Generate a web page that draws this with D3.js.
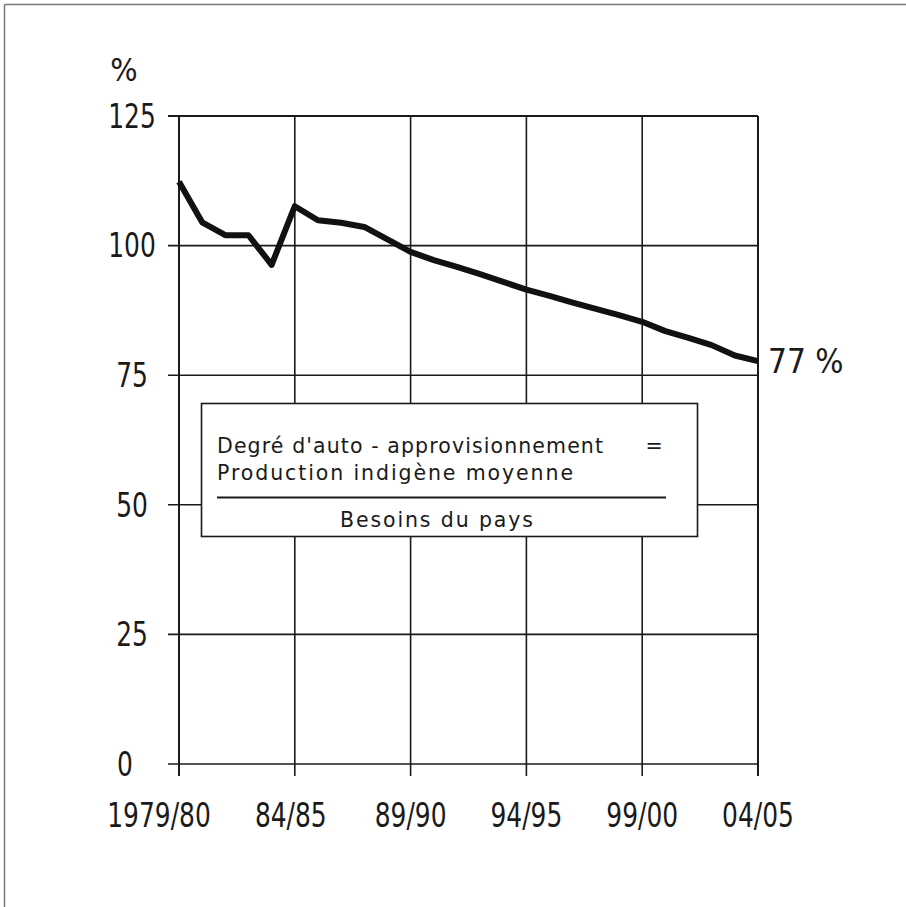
<!DOCTYPE html>
<html><head><meta charset="utf-8">
<script src="https://cdn.jsdelivr.net/npm/d3@7/dist/d3.min.js"></script>
<style>
html,body{margin:0;padding:0;background:#fff;}
svg{display:block;}
</style></head>
<body>
<script>
// ---- data ----
const periods = ["1979/80","80/81","81/82","82/83","83/84","84/85","85/86","86/87","87/88","88/89",
  "89/90","90/91","91/92","92/93","93/94","94/95","95/96","96/97","97/98","98/99",
  "99/00","00/01","01/02","02/03","03/04","04/05"];
const selfSufficiency = [112.3,104.5,102.0,102.0,96.3,107.6,104.9,104.4,103.6,101.2,
  98.8,97.2,95.9,94.5,93.0,91.5,90.3,89.0,87.8,86.6,
  85.3,83.5,82.2,80.8,78.8,77.7];
const xTickLabels = ["1979/80","84/85","89/90","94/95","99/00","04/05"];
const yTicks = [0,25,50,75,100,125];
const unitLabel = "%";
const endLabel = "77 %";
const legendLines = ["Degré d'auto - approvisionnement", "Production indigène moyenne", "Besoins du pays"];

// ---- layout ----
const W = 906, H = 907;
const svg = d3.select("body").append("svg").attr("width", W).attr("height", H);
svg.append("rect").attr("width", W).attr("height", H).attr("fill", "#fff");

// outer frame (top & left only, as cropped)
svg.append("line").attr("x1",4.5).attr("y1",4.5).attr("x2",W).attr("y2",4.5).attr("stroke","#777").attr("stroke-width",1.5);
svg.append("line").attr("x1",4.5).attr("y1",4.5).attr("x2",4.5).attr("y2",H).attr("stroke","#777").attr("stroke-width",1.5);

const x = d3.scaleLinear().domain([0, periods.length - 1]).range([179, 758]);
const y = d3.scaleLinear().domain([0, 125]).range([764, 116]);
const ink = "#1a1a1a";
const axisFont = "'DejaVu Sans Condensed','DejaVu Sans',sans-serif";
const squeeze = 0.84;

// horizontal grid lines (extending left as ticks)
svg.append("g").selectAll("line").data(yTicks).join("line")
  .attr("x1", 168).attr("x2", x.range()[1])
  .attr("y1", d => y(d)).attr("y2", d => y(d))
  .attr("stroke", ink).attr("stroke-width", d => d === 125 ? 2.2 : 1.6);

// vertical grid lines (extending below as ticks)
const xTickIdx = xTickLabels.map(l => periods.indexOf(l));
svg.append("g").selectAll("line").data(xTickIdx).join("line")
  .attr("x1", d => x(d)).attr("x2", d => x(d))
  .attr("y1", y(125)).attr("y2", y(0) + 12)
  .attr("stroke", ink).attr("stroke-width", d => (d === 0 || d === periods.length-1) ? 2 : 1.6);

// y labels
svg.append("g").selectAll("text").data(yTicks).join("text")
  .attr("transform", d => `translate(${d === 0 ? 125 : 132},${y(d)}) scale(${squeeze},1)`)
  .attr("dy", "0.36em").attr("text-anchor", "middle")
  .attr("font-family", axisFont).attr("font-size", 33).attr("fill", ink)
  .text(d => d);

// unit
svg.append("text").attr("transform", "translate(124,81)").attr("text-anchor","middle")
  .attr("font-family", axisFont).attr("font-size", 32).attr("fill", ink).text(unitLabel);

// x labels
svg.append("g").selectAll("text").data(xTickIdx).join("text")
  .attr("transform", (d,i) => `translate(${x(d) + (i === 0 ? -20 : (i === 1 ? -4 : 0))},827) scale(${squeeze},1)`)
  .attr("text-anchor", "middle")
  .attr("font-family", axisFont).attr("font-size", 33).attr("fill", ink)
  .text((d,i) => xTickLabels[i]);

// data line
const line = d3.line().x((d,i) => x(i)).y(d => y(d)).curve(d3.curveLinear);
svg.append("path").datum(selfSufficiency).attr("d", line)
  .attr("fill","none").attr("stroke","#111").attr("stroke-width",6)
  .attr("stroke-linejoin","round").attr("stroke-linecap","butt");

// end label
svg.append("text")
  .attr("transform", `translate(768,${y(selfSufficiency[selfSufficiency.length-1])})`)
  .attr("dy","0.36em")
  .attr("font-family", axisFont).attr("font-size", 33).attr("fill", ink).text(endLabel);

// legend box
const lg = svg.append("g");
lg.append("rect").attr("x", 201.5).attr("y", 403.5).attr("width", 496).attr("height", 133)
  .attr("fill","#fff").attr("stroke", ink).attr("stroke-width",1.6);
const legendFont = "'DejaVu Sans',sans-serif";
lg.append("text").attr("x", 217).attr("y", 453).attr("font-family", legendFont).attr("font-size", 20.5)
  .attr("textLength", 386).attr("lengthAdjust", "spacing")
  .attr("fill", ink).text(legendLines[0]);
lg.append("text").attr("x", 654).attr("y", 453).attr("text-anchor","middle").attr("font-family", legendFont).attr("font-size", 20.5)
  .attr("fill", ink).text("=");
lg.append("text").attr("x", 217).attr("y", 480).attr("font-family", legendFont).attr("font-size", 20.5)
  .attr("textLength", 356).attr("lengthAdjust", "spacing")
  .attr("fill", ink).text(legendLines[1]);
lg.append("line").attr("x1", 217).attr("x2", 666).attr("y1", 497.5).attr("y2", 497.5)
  .attr("stroke", ink).attr("stroke-width", 2.2);
lg.append("text").attr("x", 340).attr("y", 527).attr("font-family", legendFont).attr("font-size", 20.5)
  .attr("textLength", 193).attr("lengthAdjust", "spacing")
  .attr("fill", ink).text(legendLines[2]);
</script>
</body></html>
